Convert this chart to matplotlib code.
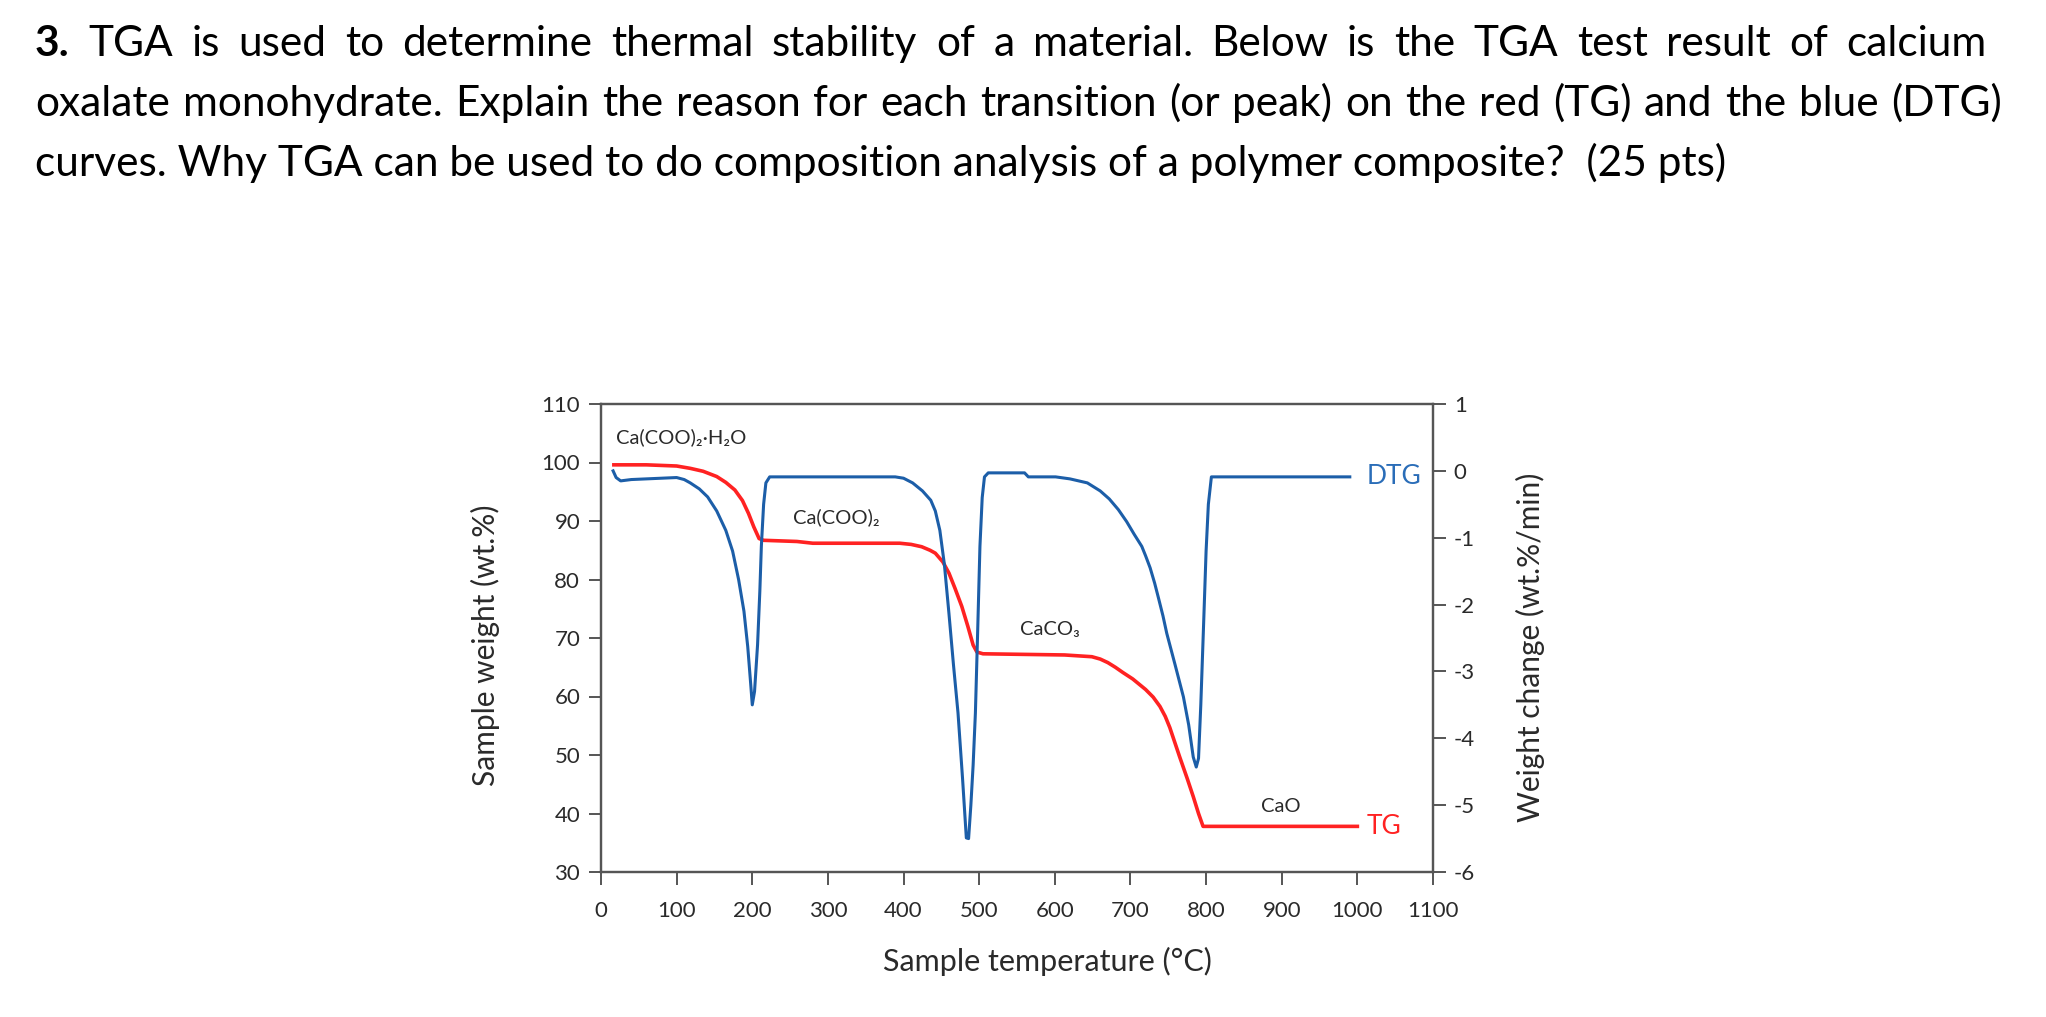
"""TGA / DTG curves of calcium oxalate monohydrate, with the question text above."""

import matplotlib
matplotlib.use("Agg")
import matplotlib.pyplot as plt

plt.rcParams["font.family"] = ["Lato", "DejaVu Sans"]
plt.rcParams["axes.unicode_minus"] = False

# TG curve: sample temperature (°C) -> sample weight (wt.%)
tg_temp = [17, 60, 100, 118, 135, 153, 165, 177, 187, 195, 202, 209, 215,
           259, 280, 395, 410, 424, 435, 442, 452, 460, 468, 477, 485, 492,
           497, 505, 613, 649, 660, 670, 680, 690, 703, 720, 730, 739, 746,
           752, 765, 775, 783, 790, 796, 1000]
tg_weight = [99.6, 99.6, 99.4, 99.0, 98.5, 97.6, 96.6, 95.3, 93.5, 91.3, 89.0,
             87.0, 86.7, 86.5, 86.2, 86.2, 86.0, 85.6, 85.0, 84.5, 83.0, 81.1,
             78.5, 75.4, 72.0, 68.8, 67.6, 67.3, 67.1, 66.8, 66.4, 65.8, 65.0,
             64.1, 63.0, 61.2, 59.9, 58.3, 56.6, 54.7, 49.7, 46.0, 42.9, 40.0,
             37.8, 37.8]

# DTG curve: sample temperature (°C) -> weight change (wt.%/min)
dtg_temp = [16, 20, 26, 40, 100, 110, 118, 130, 141, 153, 165, 174, 182, 189,
            194, 198, 200, 203, 207, 210, 212, 215, 218, 223, 389, 400, 412,
            425, 436, 442, 448, 454, 460, 466, 472, 478, 483, 486, 489, 492,
            495, 498, 501, 504, 507, 512, 560, 565, 601, 620, 643, 660, 672,
            684, 695, 705, 715, 720, 726, 732, 737, 743, 748, 759, 770, 777,
            783, 787, 790, 793, 797, 800, 803, 807, 990]
dtg_rate = [0.0, -0.10, -0.15, -0.13, -0.10, -0.13, -0.18, -0.27, -0.39, -0.60,
            -0.89, -1.20, -1.63, -2.10, -2.63, -3.20, -3.50, -3.30, -2.60,
            -1.80, -1.13, -0.50, -0.18, -0.09, -0.09, -0.11, -0.18, -0.30,
            -0.44, -0.60, -0.89, -1.40, -2.13, -2.90, -3.62, -4.60, -5.49,
            -5.50, -5.00, -4.40, -3.62, -2.40, -1.13, -0.40, -0.09, -0.03,
            -0.03, -0.09, -0.09, -0.12, -0.18, -0.30, -0.42, -0.58, -0.76,
            -0.95, -1.13, -1.27, -1.45, -1.68, -1.90, -2.17, -2.43, -2.90,
            -3.38, -3.80, -4.28, -4.43, -4.30, -3.50, -2.20, -1.20, -0.50,
            -0.09, -0.09]

# phase labels: (text, temperature, weight)
phases = [
    ("Ca(COO)₂·H₂O", 20, 104.4),
    ("Ca(COO)₂", 254, 90.7),
    ("CaCO₃", 554, 71.4),
    ("CaO", 873, 41.2),
]

question_lines = [
    "TGA is used to determine thermal stability of a material. Below is the "
    "TGA test result of calcium",
    "oxalate monohydrate. Explain the reason for each transition (or peak) on "
    "the red (TG) and the blue (DTG)",
    "curves. Why TGA can be used to do composition analysis of a polymer "
    "composite?  (25 pts)",
]

RED = "#ff2222"
BLUE = "#1c5ea8"
AXIS = "#555555"
TEXT = "#2a2a2a"
W, H = 2046, 1017
Q_SIZE = 30.5


def justified_line(fig, renderer, words, x0, x1, y, bold_first=False):
    """Place words so the line runs from pixel x0 to x1 (like justified text)."""
    texts = []
    for i, wd in enumerate(words):
        weight = "bold" if (bold_first and i == 0) else "normal"
        texts.append(fig.text(0, 1 - y / H, wd, fontsize=Q_SIZE,
                              weight=weight, va="baseline", ha="left"))
    widths = [t.get_window_extent(renderer).width for t in texts]
    gap = (x1 - x0 - sum(widths)) / (len(words) - 1)
    x = x0
    for t, w in zip(texts, widths):
        t.set_x(x / W)
        x += w + gap


def main() -> None:
    fig = plt.figure(figsize=(W / 100, H / 100), dpi=100)
    renderer = fig.canvas.get_renderer()

    # Question text above the chart: first two lines justified.
    justified_line(fig, renderer, ["3."] + question_lines[0].split(), 35, 1987,
                   56, bold_first=True)
    justified_line(fig, renderer, question_lines[1].split(), 35, 2002, 116)
    fig.text(35 / W, 1 - 176 / H, question_lines[2], fontsize=Q_SIZE,
             va="baseline", ha="left")

    ax = fig.add_axes([601 / W, 1 - 872 / H, 832 / W, 468 / H])
    ax2 = ax.twinx()

    ax.plot(tg_temp, tg_weight, color=RED, lw=2.6, zorder=3)
    ax2.plot(dtg_temp, dtg_rate, color=BLUE, lw=2.2, zorder=3)

    ax.set_xlim(0, 1100)
    ax.set_ylim(30, 110)
    ax2.set_ylim(-6, 1)
    ax.set_xticks(range(0, 1101, 100))
    ax.set_yticks(range(30, 111, 10))
    ax2.set_yticks(range(-6, 2))

    for a in (ax, ax2):
        for sp in a.spines.values():
            sp.set_color(AXIS)
            sp.set_linewidth(1.6)
        a.tick_params(direction="out", length=9, width=1.4, color=AXIS,
                      labelsize=16, labelcolor=TEXT, pad=6)
    ax.tick_params(axis="x", pad=12)

    ax.set_xlabel("Sample temperature (°C)", fontsize=22, color=TEXT,
                  va="center")
    ax.xaxis.set_label_coords(0.536, -0.192)
    ax.set_ylabel("Sample weight (wt.%)", fontsize=21.5, color=TEXT,
                  va="center")
    ax.yaxis.set_label_coords(-0.139, 0.485)
    ax2.set_ylabel("Weight change (wt.%/min)", fontsize=21.5, color=TEXT,
                   va="center")
    ax2.yaxis.set_label_coords(1.117, 0.48)

    for name, t, w in phases:
        ax.text(t, w, name, fontsize=14.5, color=TEXT, va="center", ha="left")

    # curve names at the right end of each curve
    ax.text(tg_temp[-1] + 12, tg_weight[-1], "TG", color=RED, fontsize=19,
            va="center", ha="left")
    ax2.text(dtg_temp[-1] + 22, dtg_rate[-1], "DTG", color="#2a6db8",
             fontsize=19, va="center", ha="left")

    fig.savefig("out.png", dpi=100)


if __name__ == "__main__":
    main()
